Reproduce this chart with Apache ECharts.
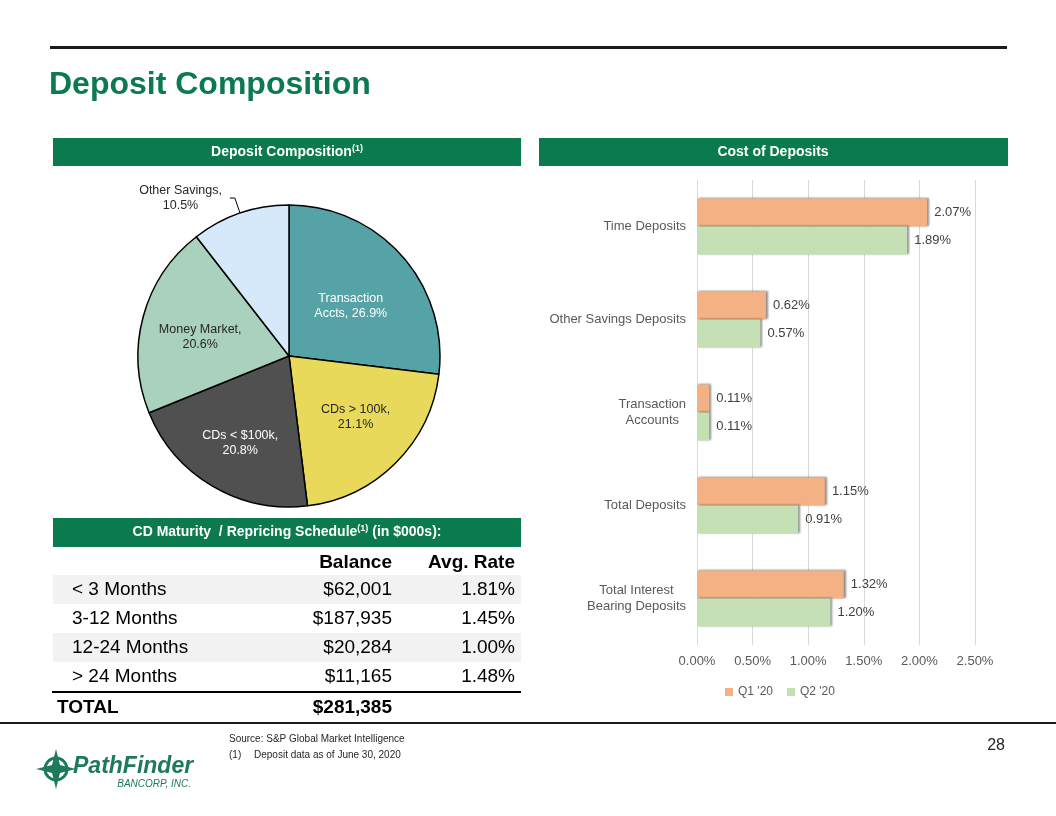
<!DOCTYPE html>
<html>
<head>
<meta charset="utf-8">
<script src="https://cdn.jsdelivr.net/npm/echarts@6/dist/echarts.min.js"></script>
<style>
  html, body { margin: 0; padding: 0; background: #fff; }
  #chart { width: 1056px; height: 816px; }
</style>
</head>
<body>
<div id="chart"></div>
<script>
// ---- Data ----
const pieNames = ['Transaction Accts', 'CDs > 100k', 'CDs < $100k', 'Money Market', 'Other Savings'];
const pieValues = [26.9, 21.1, 20.8, 20.6, 10.5];

const costCategories = ['Time Deposits', 'Other Savings Deposits', 'Transaction\nAccounts', 'Total Deposits', 'Total Interest\nBearing Deposits'];
const costQ1 = [2.07, 0.62, 0.11, 1.15, 1.32];
const costQ2 = [1.89, 0.57, 0.11, 0.91, 1.20];
const seriesNames = ["Q1 '20", "Q2 '20"];

const cdBuckets = ['< 3 Months', '3-12 Months', '12-24 Months', '> 24 Months'];
const cdBalances = [62001, 187935, 20284, 11165];
const cdRates = [1.81, 1.45, 1.00, 1.48];
const cdTotal = 281385;

// ---- Styles ----
const GREEN = '#0B7A4F';
const LOGO = '#1F7A5A';
const FONT = 'Liberation Sans, Arial, sans-serif';
const pieColors = ['#55A3A6', '#E8D95B', '#505050', '#A9D1BD', '#D6E9FB'];
const pieLabelColors = ['#ffffff', '#262626', '#ffffff', '#262626', '#262626'];
const pieLabelOffsets = [[3, 2], [11, 6], [-9, 19], [-13, 1], [-5, 0]];
const PIE_FS = 12.5;

const fmtMoney = v => '$' + v.toLocaleString('en-US');
const fmtPct = v => v.toFixed(2) + '%';
const centerLines = s => s.split('\n').map(l => '{c|' + l + '}').join('\n');

const chart = echarts.init(document.getElementById('chart'), null, { renderer: 'canvas' });

// Table graphics
const tableG = [];
const rowTop = 575, rowH = 29;
const TF = '19px ' + FONT, TFB = 'bold 19px ' + FONT;
tableG.push({ type: 'text', x: 392, y: 563, style: { text: 'Balance', font: TFB, fill: '#000', align: 'right', verticalAlign: 'middle' } });
tableG.push({ type: 'text', x: 515, y: 563, style: { text: 'Avg. Rate', font: TFB, fill: '#000', align: 'right', verticalAlign: 'middle' } });
cdBuckets.forEach((b, i) => {
  const y0 = rowTop + i * rowH;
  if (i % 2 === 0) {
    tableG.push({ type: 'rect', shape: { x: 53, y: y0, width: 468, height: rowH }, style: { fill: '#F2F2F2' }, z: -1 });
  }
  const cy = y0 + rowH / 2;
  tableG.push({ type: 'text', x: 72, y: cy, style: { text: b, font: TF, fill: '#000', align: 'left', verticalAlign: 'middle' } });
  tableG.push({ type: 'text', x: 392, y: cy, style: { text: fmtMoney(cdBalances[i]), font: TF, fill: '#000', align: 'right', verticalAlign: 'middle' } });
  tableG.push({ type: 'text', x: 515, y: cy, style: { text: fmtPct(cdRates[i]), font: TF, fill: '#000', align: 'right', verticalAlign: 'middle' } });
});
tableG.push({ type: 'rect', shape: { x: 52, y: 691, width: 469, height: 2 }, style: { fill: '#000' } });
tableG.push({ type: 'text', x: 57, y: 708, style: { text: 'TOTAL', font: TFB, fill: '#000', align: 'left', verticalAlign: 'middle' } });
tableG.push({ type: 'text', x: 392, y: 708, style: { text: fmtMoney(cdTotal), font: TFB, fill: '#000', align: 'right', verticalAlign: 'middle' } });

// Logo compass star
const cx = 56, cyL = 769;
const star = [[cx - 20, cyL], [cx - 4, cyL - 4], [cx, cyL - 20], [cx + 4, cyL - 4], [cx + 20, cyL], [cx + 4, cyL + 4], [cx, cyL + 20], [cx - 4, cyL + 4]];

const graphics = [
  { type: 'rect', shape: { x: 50, y: 46, width: 957, height: 3 }, style: { fill: '#1a1a1a' } },
  { type: 'text', x: 49, y: 85, style: { text: 'Deposit Composition', font: 'bold 32px ' + FONT, fill: GREEN, verticalAlign: 'middle' } },
  { type: 'rect', shape: { x: 53, y: 138, width: 468, height: 28 }, style: { fill: GREEN } },
  { type: 'text', x: 287, y: 152, style: {
      text: '{a|Deposit Composition}{s|(1)}', align: 'center', verticalAlign: 'middle',
      rich: { a: { font: 'bold 14px ' + FONT, fill: '#fff' }, s: { font: 'bold 9px ' + FONT, fill: '#fff', padding: [0, 0, 7, 0] } } } },
  { type: 'rect', shape: { x: 539, y: 138, width: 469, height: 28 }, style: { fill: GREEN } },
  { type: 'text', x: 773, y: 152, style: { text: 'Cost of Deposits', font: 'bold 14px ' + FONT, fill: '#fff', align: 'center', verticalAlign: 'middle' } },
  { type: 'rect', shape: { x: 53, y: 518, width: 468, height: 29 }, style: { fill: GREEN } },
  { type: 'text', x: 287, y: 532, style: {
      text: '{a|CD Maturity  / Repricing Schedule}{s|(1)}{a| (in $000s):}', align: 'center', verticalAlign: 'middle',
      rich: { a: { font: 'bold 14px ' + FONT, fill: '#fff' }, s: { font: 'bold 9px ' + FONT, fill: '#fff', padding: [0, 0, 7, 0] } } } },
  ...tableG,
  { type: 'rect', shape: { x: 0, y: 722, width: 1056, height: 2 }, style: { fill: '#1a1a1a' } },
  { type: 'text', x: 229, y: 739, style: { text: 'Source: S&P Global Market Intelligence', font: '10px ' + FONT, fill: '#262626', verticalAlign: 'middle' } },
  { type: 'text', x: 229, y: 755, style: { text: '(1)', font: '10px ' + FONT, fill: '#262626', verticalAlign: 'middle' } },
  { type: 'text', x: 254, y: 755, style: { text: 'Deposit data as of June 30, 2020', font: '10px ' + FONT, fill: '#262626', verticalAlign: 'middle' } },
  { type: 'text', x: 1005, y: 746, style: { text: '28', font: '16px ' + FONT, fill: '#262626', align: 'right', verticalAlign: 'middle' } },
  { type: 'arc', shape: { cx: cx, cy: cyL, r: 11, startAngle: 0, endAngle: Math.PI * 2 }, style: { fill: 'none', stroke: LOGO, lineWidth: 3 } },
  { type: 'polygon', shape: { points: star }, style: { fill: LOGO } },
  { type: 'text', x: 73, y: 767, style: { text: 'PathFinder', font: 'italic bold 23px ' + FONT, fill: LOGO, verticalAlign: 'middle' } },
  { type: 'text', x: 191, y: 784, style: { text: 'BANCORP, INC.', font: 'italic 10px ' + FONT, fill: LOGO, align: 'right', verticalAlign: 'middle' } }
];

const barLabel = { show: true, position: 'right', distance: 7, color: '#404040', fontSize: 13, formatter: p => fmtPct(p.value) };

const option = {
  animation: false,
  backgroundColor: '#fff',
  textStyle: { fontFamily: FONT },
  graphic: graphics,
  legend: {
    data: seriesNames, left: 720, top: 681, icon: 'rect', itemWidth: 8, itemHeight: 8, itemGap: 14,
    textStyle: { color: '#595959', fontSize: 12, fontFamily: FONT }
  },
  grid: { left: 697, width: 278, top: 180, height: 465, containLabel: false },
  xAxis: {
    type: 'value', min: 0, max: 2.5, interval: 0.5,
    axisLine: { show: false }, axisTick: { show: false },
    axisLabel: { color: '#595959', fontSize: 13, margin: 10, formatter: v => v.toFixed(2) + '%' },
    splitLine: { lineStyle: { color: '#D9D9D9', width: 1 } }
  },
  yAxis: {
    type: 'category', data: costCategories, inverse: true,
    axisLine: { show: true, lineStyle: { color: '#D9D9D9' } }, axisTick: { show: false },
    axisLabel: {
      color: '#595959', fontSize: 13, margin: 11, lineHeight: 16,
      formatter: centerLines,
      rich: { c: { align: 'center', color: '#595959', fontSize: 13, lineHeight: 16 } }
    }
  },
  series: [
    {
      name: seriesNames[0], type: 'bar', data: costQ1, barWidth: 28, barGap: '0%',
      itemStyle: { color: '#F4B183', shadowColor: 'rgba(0,0,0,0.45)', shadowBlur: 2, shadowOffsetX: 2, shadowOffsetY: -1 },
      label: barLabel
    },
    {
      name: seriesNames[1], type: 'bar', data: costQ2, barWidth: 28,
      itemStyle: { color: '#C5E0B4', shadowColor: 'rgba(0,0,0,0.45)', shadowBlur: 2, shadowOffsetX: 2, shadowOffsetY: -1 },
      label: barLabel
    },
    {
      type: 'pie', center: [289, 356], radius: 151, startAngle: 90, clockwise: true,
      legendHoverLink: false,
      itemStyle: { borderColor: '#000', borderWidth: 1.5 },
      label: {
        show: true, position: 'inside', fontSize: PIE_FS, lineHeight: 15, fontFamily: FONT,
        formatter: p => {
          const v = p.value.toFixed(1) + '%';
          const s = p.dataIndex === 0 ? p.name.replace(' ', '\n') + ', ' + v : p.name + ',\n' + v;
          return centerLines(s);
        }
      },
      labelLine: { show: false },
      data: pieNames.map((n, i) => {
        const lc = pieLabelColors[i];
        const item = { name: n, value: pieValues[i], itemStyle: { color: pieColors[i] },
          label: { color: lc, offset: pieLabelOffsets[i], rich: { c: { align: 'center', color: lc, fontSize: PIE_FS, lineHeight: 15 } } } };
        if (i === 4) {
          item.label.position = 'outside';
          item.label.distanceToLabelLine = 3;
          item.labelLine = { show: true, length: 16, length2: 5, lineStyle: { color: '#000', width: 1 } };
        }
        return item;
      })
    }
  ]
};
chart.setOption(option);
</script>
</body>
</html>
